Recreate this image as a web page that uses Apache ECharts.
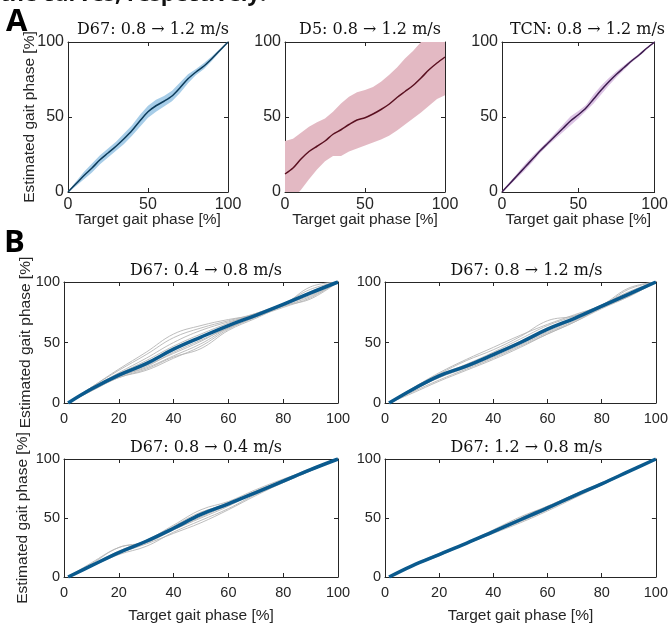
<!DOCTYPE html>
<html><head><meta charset="utf-8">
<script src="https://cdn.jsdelivr.net/npm/echarts@6/dist/echarts.min.js"></script>
<style>html,body{margin:0;padding:0;background:#fff}#c{width:671px;height:625px}</style>
</head><body><div id="c"></div>
<script>
// ---------- DATA ----------
const titles = ['D67: 0.8 \u2192 1.2 m/s', 'D5: 0.8 \u2192 1.2 m/s', 'TCN: 0.8 \u2192 1.2 m/s',
  'D67: 0.4 \u2192 0.8 m/s', 'D67: 0.8 \u2192 1.2 m/s', 'D67: 0.8 \u2192 0.4 m/s', 'D67: 1.2 \u2192 0.8 m/s'];
const xName = 'Target gait phase [%]';
const yName = 'Estimated gait phase [%]';

const xA = [0,5,10,15,20,25,30,35,40,45,50,55,60,65,70,75,80,85,90,95,100];
const a1Mean  = [0,5.5,11,16,21.5,26,30.5,35.5,41,47.5,53.5,57.5,60.5,64,69.5,75.5,80,84,89,94.5,100];
const a1Upper = [0.5,7,13.5,19,24.5,29,33.5,39,44.5,51.5,57.5,61.5,64,67.5,73,78.5,82,86,90.5,95.5,100.5];
const a1Lower = [-0.5,4,8.5,13,18.5,23,27.5,32,37.5,43.5,49.5,53.5,57,60.5,66,72.5,78,82,87.5,93.5,99.5];

const a2Mean  = [12,16,22,27,30.5,34,38.5,41.5,45,48,49.5,52,55,58.5,63,67,71,76,81.5,86,90];
const a2Upper = [34,35.5,39.5,43.5,46.5,49,53.5,59,63.5,66.5,68,70,73.5,78,83,89,94,100,104,108,112];
const a2Lower = [-9,-4.5,1.5,8.5,15,20.5,24,24,27,29,31,33,35,37.5,41,45,49,53,57.5,62,64.5];

const a3Mean  = [0,5.5,11,16.5,22,27.5,32.5,37.5,42.5,47.5,51.5,56,62,68,73.5,78.5,83,87.5,91.5,96,100];
const a3Upper = [0.5,6.5,12.5,18.5,24,29,34,39.5,45,50.5,54,58,65,71,76,80.5,84.5,88.5,92.5,96.5,100.5];
const a3Lower = [-0.5,4.5,9.5,14.5,20,26,31,35.5,40,44.5,49,54,59,65,71,76.5,81.5,86.5,90.5,95.5,99.5];

const xB = [1.5,10,20,30,40,50,60,70,80,90,100];
const b1Mean = [0,11.5,23,32.5,44.5,54.5,64,72.5,81.5,91,100];
const b1Trials = [
  [0,13,28,42,57,64,69,73,81,96,100],
  [0,13,27,40,54,62,68,74,82,94,100],
  [0,12,25,37,50,60,67,73,81,92,100],
  [0,11,24,35,47,57,66,74,82,91,100],
  [0,11,23,33,44,54,64,73,82,90,100],
  [0,11,22,31,41,51,63,73,81,89,100],
  [0,11,22,29,39,49,62,72,80,88,100],
  [0,10,21,27,37,47,61,71,79,87,100],
  [0,10,21,28,38,45,60,70,80,86,100],
  [0,11,22,30,42,52,62,71,81,90,100]
];
const b2Mean = [0,11,22.5,30.5,40,50,61,70,80,90,100];
const b2Trials = [
  [0,12,24,35,44,55,68,72,80,94,100],
  [0,12,25,36,46,56,65,73,81,95,100],
  [0,11,23,32,42,53,64,72,81,92,100],
  [0,10,22,30,40,50,60,70,80,90,100],
  [0,10,21,29,38,48,58,68,79,89,100],
  [0,9,19,28,37,47,57,67,79,88,100],
  [0,8,18,27,36,46,57,67,78,88,100],
  [0,11,23,31,41,51,61,70,81,91,100],
  [0,10,21,30,39,49,59,69,79,89,100]
];
const b3Mean = [0,9.6,20.7,30.3,41.3,53,62,71.6,81.3,91,100];
const b3Trials = [
  [0,11,25,29,40,50,60,72,82,92,100],
  [0,12,25,30,43,55,62,73,82,91,100],
  [0,10,22,31,44,57,64,74,83,91,100],
  [0,10,20,28,37,46,57,69,80,90,100],
  [0,9,19,26,38,48,58,70,80,90,100],
  [0,10,21,31,42,54,63,72,81,91,100],
  [0,9,20,29,41,52,62,71,81,90,100],
  [0,10,21,30,40,51,61,72,82,91,100]
];
const b4Mean = [0,9.5,19,28.5,38.5,48.5,58.5,69,79,89.5,100];
const b4Trials = [
  [0,10,20,29,40,51,60,70,79,90,100],
  [0,9,19,28,37,46,56,67,78,89,100],
  [0,10,19,29,39,49,59,69,79,89,100],
  [0,9,18,28,38,47,57,68,78,89,100],
  [0,10,19,29,39,50,60,70,80,90,100]
];

// ---------- STYLE / LAYOUT ----------
const TXT = '#262626';
const SANS = 'Liberation Sans';
const SERIF = 'DejaVu Serif';
const panels = [
  {g:{left:68,top:42,width:160,height:150}, xi:50, xn:true, yn:true, lm:5, ng:20, yng:30, tt:17, fs:16},
  {g:{left:285,top:42,width:160,height:150}, xi:50, xn:true, yn:false, lm:5, ng:20, yng:30, tt:17, fs:16},
  {g:{left:502,top:42,width:161,height:150}, xi:50, xn:true, yn:false, lm:5, ng:20, yng:30, tt:17, fs:16},
  {g:{left:64,top:282,width:274,height:121}, xi:20, xn:false, yn:true, lm:8, ng:31, yng:30, tt:258, fs:14.5},
  {g:{left:385,top:282,width:273,height:121}, xi:20, xn:false, yn:false, lm:8, ng:31, yng:30, tt:258, fs:14.5},
  {g:{left:64,top:459,width:274,height:121}, xi:20, xn:true, yn:true, lm:8, ng:31, yng:33, tt:434.5, fs:14.5},
  {g:{left:385,top:459,width:273,height:121}, xi:20, xn:true, yn:false, lm:8, ng:31, yng:33, tt:434.5, fs:14.5}
];

const grid = [], xAxis = [], yAxis = [], title = [], series = [];
const lineSt = {color: TXT, width: 1};
panels.forEach((p, i) => {
  grid.push(Object.assign({containLabel:false}, p.g));
  title.push({text: titles[i], left: p.g.left + p.g.width/2, top: p.tt, textAlign: 'center',
    textStyle: {fontFamily: SERIF, fontSize: 16, fontWeight: 'normal', color: '#111'}});
  const common = {gridIndex: i, type: 'value', min: 0, max: 100, splitLine: {show: false},
    axisLine: {show: true, onZero: false, lineStyle: lineSt},
    axisTick: {show: true, inside: true, length: 4, lineStyle: lineSt}};
  const nameSt = {color: TXT, fontFamily: SANS, fontSize: 15.5};
  xAxis.push(Object.assign({}, common, {position: 'bottom', interval: p.xi,
    axisLabel: {color: TXT, fontFamily: SANS, fontSize: p.fs, margin: p.lm},
    name: p.xn ? xName : '', nameLocation: 'middle', nameGap: p.ng, nameMoveOverlap: false, nameTextStyle: nameSt}));
  xAxis.push(Object.assign({}, common, {position: 'top', interval: p.xi, axisLabel: {show: false}}));
  yAxis.push(Object.assign({}, common, {position: 'left', interval: 50,
    axisLabel: {color: TXT, fontFamily: SANS, fontSize: p.fs, margin: 4},
    name: p.yn ? yName : '', nameLocation: 'middle', nameGap: p.yng, nameMoveOverlap: false, nameTextStyle: nameSt}));
  yAxis.push(Object.assign({}, common, {position: 'right', interval: 50, axisLabel: {show: false}}));
});

function pairs(xs, ys) { return xs.map((x, k) => [x, ys[k]]); }
function band(i, lower, upper, fill, lineColor, mean) {
  const rows = xA.map((x, k) => [x, lower[k], upper[k]]);
  series.push({type: 'custom', xAxisIndex: 2*i, yAxisIndex: 2*i, data: rows, clip: true, silent: true, z: 1,
    encode: {x: 0, y: [1, 2]},
    renderItem: function (params, api) {
      if (params.dataIndex !== 0) return null;
      const top = rows.map(r => api.coord([r[0], r[2]]));
      const bot = rows.slice().reverse().map(r => api.coord([r[0], r[1]]));
      const cs = params.coordSys;
      return {type: 'polygon', shape: {points: top.concat(bot)},
        style: {fill: fill, stroke: null},
        clipPath: {type: 'rect', shape: {x: cs.x, y: cs.y, width: cs.width, height: cs.height}}};
    }});
  series.push({type: 'line', xAxisIndex: 2*i, yAxisIndex: 2*i, data: pairs(xA, mean),
    symbol: 'none', smooth: 0.3, lineStyle: {color: lineColor, width: 1.5}, silent: true, z: 3});
}
band(0, a1Lower, a1Upper, '#a7cde8', '#0c3b5a', a1Mean);
band(1, a2Lower, a2Upper, '#e3b9c3', '#5a1020', a2Mean);
band(2, a3Lower, a3Upper, '#dcc4e4', '#3d1b4f', a3Mean);

function trials(i, list, mean) {
  list.forEach(t => series.push({type: 'line', xAxisIndex: 2*i, yAxisIndex: 2*i, data: pairs(xB, t),
    symbol: 'none', smooth: 0.4, lineStyle: {color: '#b5b5b5', width: 0.9}, silent: true, z: 2}));
  series.push({type: 'line', xAxisIndex: 2*i, yAxisIndex: 2*i, data: pairs(xB, mean),
    symbol: 'none', smooth: 0.4, lineStyle: {color: '#0a5a8e', width: 3.5}, silent: true, z: 3});
}
trials(3, b1Trials, b1Mean);
trials(4, b2Trials, b2Mean);
trials(5, b3Trials, b3Mean);
trials(6, b4Trials, b4Mean);

const chart = echarts.init(document.getElementById('c'), null, {renderer: 'canvas'});
chart.setOption({
  animation: false,
  backgroundColor: '#fff',
  title, grid, xAxis, yAxis, series,
  graphic: [
    {type: 'text', left: 0, top: -16, style: {text: 'the curves, respectively.', fontFamily: 'Open Sans', fontWeight: 'bold', fontSize: 22, fill: '#111'}},
    {type: 'text', left: 6, top: 7, style: {text: 'A', fontFamily: 'Open Sans', fontWeight: 'bold', fontSize: 31, fill: '#000'}},
    {type: 'text', left: 4, top: 228, style: {text: 'B', fontFamily: 'Open Sans', fontWeight: 'bold', fontSize: 31, fill: '#000'}}
  ]
});
</script></body></html>
